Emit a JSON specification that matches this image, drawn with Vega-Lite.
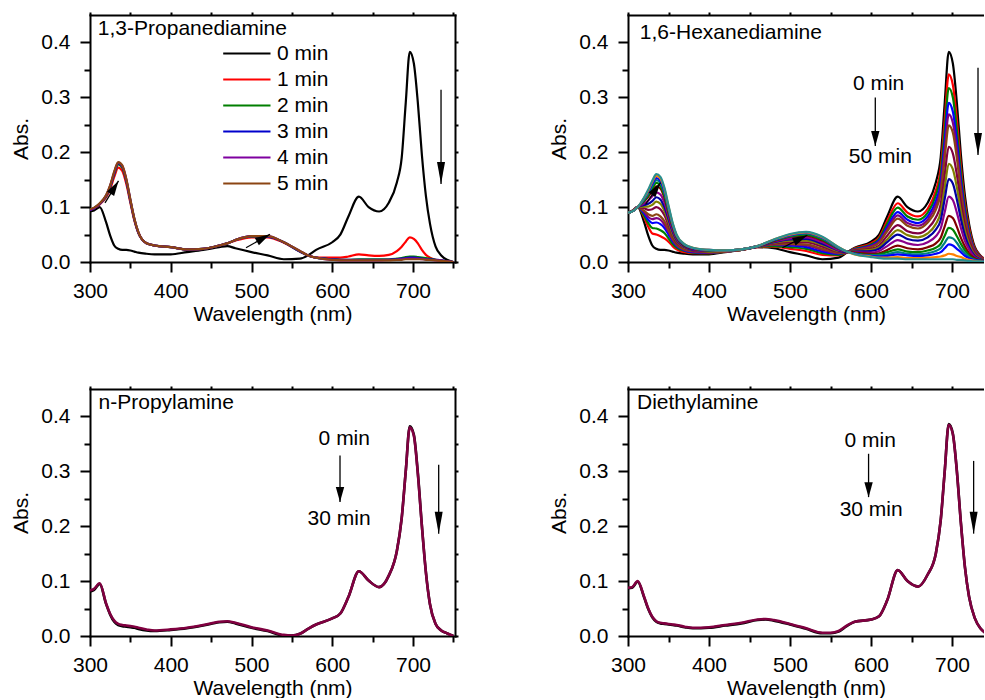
{
"$schema": "https://vega.github.io/schema/vega-lite/v6.json",
"padding": {"left": 10, "top": 11, "right": 0, "bottom": 0},
"bounds": "flush",
"columns": 2,
"spacing": {"row": 127, "column": 173},
"config": {
  "view": {"stroke": null},
  "font": "Liberation Sans",
  "axis": {"grid": false, "domainColor": "black", "domainWidth": 2, "domainCap": "square", "tickColor": "black", "tickWidth": 2, "labelColor": "black", "titleColor": "black", "labelFontSize": 21, "titleFontSize": 21, "titleFontWeight": "normal", "labelFont": "Liberation Sans", "titleFont": "Liberation Sans", "labelFlush": false, "labelOverlap": false, "zindex": 1},
  "text": {"font": "Liberation Sans", "fontSize": 21, "color": "black"}
},
"resolve": {"scale": {"x": "independent", "y": "independent", "color": "independent", "shape": "independent", "angle": "independent"}, "legend": {"color": "independent"}},
"datasets": {
  "s1": [
    {"w":300,"0 min":0.092,"1 min":0.095,"2 min":0.095,"3 min":0.095,"4 min":0.095,"5 min":0.096},
    {"w":305,"0 min":0.094,"1 min":0.098,"2 min":0.098,"3 min":0.098,"4 min":0.098,"5 min":0.099},
    {"w":312,"0 min":0.100,"1 min":0.105,"2 min":0.106,"3 min":0.106,"4 min":0.106,"5 min":0.107},
    {"w":320,"0 min":0.072,"1 min":0.118,"2 min":0.120,"3 min":0.121,"4 min":0.121,"5 min":0.122},
    {"w":325,"0 min":0.048,"1 min":0.133,"2 min":0.137,"3 min":0.138,"4 min":0.139,"5 min":0.140},
    {"w":330,"0 min":0.030,"1 min":0.155,"2 min":0.160,"3 min":0.162,"4 min":0.163,"5 min":0.165},
    {"w":335,"0 min":0.024,"1 min":0.172,"2 min":0.178,"3 min":0.180,"4 min":0.181,"5 min":0.182},
    {"w":340,"0 min":0.022,"1 min":0.166,"2 min":0.172,"3 min":0.174,"4 min":0.175,"5 min":0.176},
    {"w":345,"0 min":0.022,"1 min":0.142,"2 min":0.147,"3 min":0.149,"4 min":0.150,"5 min":0.151},
    {"w":350,"0 min":0.021,"1 min":0.108,"2 min":0.111,"3 min":0.112,"4 min":0.113,"5 min":0.114},
    {"w":355,"0 min":0.019,"1 min":0.075,"2 min":0.077,"3 min":0.078,"4 min":0.078,"5 min":0.079},
    {"w":360,"0 min":0.017,"1 min":0.052,"2 min":0.053,"3 min":0.053,"4 min":0.054,"5 min":0.054},
    {"w":370,"0 min":0.015,"1 min":0.034,"2 min":0.034,"3 min":0.034,"4 min":0.034,"5 min":0.034},
    {"w":380,"0 min":0.014,"1 min":0.030,"2 min":0.030,"3 min":0.030,"4 min":0.030,"5 min":0.030},
    {"w":400,"0 min":0.014,"1 min":0.027,"2 min":0.027,"3 min":0.027,"4 min":0.027,"5 min":0.027},
    {"w":420,"0 min":0.018,"1 min":0.023,"2 min":0.023,"3 min":0.023,"4 min":0.023,"5 min":0.023},
    {"w":440,"0 min":0.022,"1 min":0.024,"2 min":0.024,"3 min":0.024,"4 min":0.024,"5 min":0.024},
    {"w":460,"0 min":0.027,"1 min":0.030,"2 min":0.030,"3 min":0.030,"4 min":0.030,"5 min":0.030},
    {"w":470,"0 min":0.029,"1 min":0.034,"2 min":0.034,"3 min":0.034,"4 min":0.034,"5 min":0.034},
    {"w":480,"0 min":0.025,"1 min":0.039,"2 min":0.040,"3 min":0.040,"4 min":0.040,"5 min":0.040},
    {"w":500,"0 min":0.018,"1 min":0.045,"2 min":0.046,"3 min":0.047,"4 min":0.047,"5 min":0.047},
    {"w":520,"0 min":0.012,"1 min":0.045,"2 min":0.046,"3 min":0.046,"4 min":0.047,"5 min":0.047},
    {"w":540,"0 min":0.005,"1 min":0.035,"2 min":0.036,"3 min":0.036,"4 min":0.036,"5 min":0.036},
    {"w":560,"0 min":0.006,"1 min":0.019,"2 min":0.019,"3 min":0.019,"4 min":0.020,"5 min":0.020},
    {"w":570,"0 min":0.012,"1 min":0.012,"2 min":0.012,"3 min":0.012,"4 min":0.012,"5 min":0.012},
    {"w":580,"0 min":0.022,"1 min":0.008,"2 min":0.008,"3 min":0.008,"4 min":0.008,"5 min":0.008},
    {"w":600,"0 min":0.036,"1 min":0.008,"2 min":0.005,"3 min":0.005,"4 min":0.004,"5 min":0.004},
    {"w":610,"0 min":0.050,"1 min":0.008,"2 min":0.004,"3 min":0.004,"4 min":0.003,"5 min":0.003},
    {"w":620,"0 min":0.083,"1 min":0.010,"2 min":0.004,"3 min":0.004,"4 min":0.003,"5 min":0.003},
    {"w":633,"0 min":0.119,"1 min":0.014,"2 min":0.005,"3 min":0.004,"4 min":0.003,"5 min":0.003},
    {"w":645,"0 min":0.100,"1 min":0.012,"2 min":0.005,"3 min":0.004,"4 min":0.003,"5 min":0.003},
    {"w":658,"0 min":0.092,"1 min":0.011,"2 min":0.005,"3 min":0.004,"4 min":0.003,"5 min":0.003},
    {"w":670,"0 min":0.108,"1 min":0.013,"2 min":0.005,"3 min":0.004,"4 min":0.004,"5 min":0.003},
    {"w":680,"0 min":0.145,"1 min":0.020,"2 min":0.006,"3 min":0.005,"4 min":0.004,"5 min":0.004},
    {"w":686,"0 min":0.190,"1 min":0.028,"2 min":0.007,"3 min":0.006,"4 min":0.005,"5 min":0.004},
    {"w":691,"0 min":0.290,"1 min":0.037,"2 min":0.009,"3 min":0.007,"4 min":0.006,"5 min":0.005},
    {"w":696,"0 min":0.383,"1 min":0.045,"2 min":0.010,"3 min":0.008,"4 min":0.006,"5 min":0.005},
    {"w":701,"0 min":0.362,"1 min":0.042,"2 min":0.010,"3 min":0.008,"4 min":0.006,"5 min":0.005},
    {"w":706,"0 min":0.290,"1 min":0.034,"2 min":0.009,"3 min":0.007,"4 min":0.006,"5 min":0.005},
    {"w":711,"0 min":0.195,"1 min":0.022,"2 min":0.008,"3 min":0.006,"4 min":0.005,"5 min":0.005},
    {"w":716,"0 min":0.120,"1 min":0.013,"2 min":0.007,"3 min":0.005,"4 min":0.005,"5 min":0.004},
    {"w":721,"0 min":0.070,"1 min":0.008,"2 min":0.006,"3 min":0.005,"4 min":0.004,"5 min":0.004},
    {"w":728,"0 min":0.028,"1 min":0.004,"2 min":0.004,"3 min":0.004,"4 min":0.003,"5 min":0.003},
    {"w":735,"0 min":0.012,"1 min":0.002,"2 min":0.003,"3 min":0.003,"4 min":0.003,"5 min":0.002},
    {"w":742,"0 min":0.004,"1 min":0.001,"2 min":0.001,"3 min":0.001,"4 min":0.001,"5 min":0.001},
    {"w":750,"0 min":0.000,"1 min":0.000,"2 min":0.000,"3 min":0.000,"4 min":0.000,"5 min":0.000}
  ],
  "s2": [
    {"w":300,"a":0.090,"b":0.090,"c":0.090,"d":0.090,"e":0.090,"f":0.090,"g":0.090,"h":0.090,"i":0.090,"j":0.090,"k":0.090,"l":0.090,"m":0.090,"n":0.090,"o":0.090,"p":0.090},
    {"w":305,"a":0.093,"b":0.093,"c":0.093,"d":0.093,"e":0.093,"f":0.093,"g":0.092,"h":0.092,"i":0.092,"j":0.092,"k":0.092,"l":0.092,"m":0.092,"n":0.092,"o":0.092,"p":0.092},
    {"w":312,"a":0.100,"b":0.100,"c":0.100,"d":0.100,"e":0.100,"f":0.100,"g":0.100,"h":0.100,"i":0.100,"j":0.100,"k":0.100,"l":0.100,"m":0.100,"n":0.100,"o":0.100,"p":0.100},
    {"w":320,"a":0.072,"b":0.081,"c":0.084,"d":0.088,"e":0.091,"f":0.093,"g":0.098,"h":0.101,"i":0.104,"j":0.107,"k":0.111,"l":0.112,"m":0.114,"n":0.116,"o":0.117,"p":0.118},
    {"w":325,"a":0.048,"b":0.064,"c":0.071,"d":0.077,"e":0.082,"f":0.087,"g":0.095,"h":0.101,"i":0.106,"j":0.112,"k":0.119,"l":0.122,"m":0.125,"n":0.128,"o":0.130,"p":0.132},
    {"w":330,"a":0.030,"b":0.052,"c":0.062,"d":0.071,"e":0.078,"f":0.084,"g":0.096,"h":0.104,"i":0.111,"j":0.120,"k":0.129,"l":0.134,"m":0.139,"n":0.142,"o":0.146,"p":0.148},
    {"w":335,"a":0.024,"b":0.050,"c":0.061,"d":0.072,"e":0.080,"f":0.087,"g":0.100,"h":0.110,"i":0.118,"j":0.127,"k":0.138,"l":0.144,"m":0.149,"n":0.153,"o":0.157,"p":0.160},
    {"w":340,"a":0.022,"b":0.047,"c":0.058,"d":0.069,"e":0.077,"f":0.083,"g":0.096,"h":0.106,"i":0.114,"j":0.123,"k":0.134,"l":0.139,"m":0.144,"n":0.148,"o":0.152,"p":0.155},
    {"w":345,"a":0.022,"b":0.043,"c":0.053,"d":0.062,"e":0.068,"f":0.074,"g":0.085,"h":0.093,"i":0.100,"j":0.108,"k":0.117,"l":0.121,"m":0.126,"n":0.129,"o":0.133,"p":0.135},
    {"w":350,"a":0.021,"b":0.037,"c":0.043,"d":0.050,"e":0.055,"f":0.059,"g":0.067,"h":0.073,"i":0.078,"j":0.083,"k":0.090,"l":0.093,"m":0.096,"n":0.099,"o":0.101,"p":0.103},
    {"w":355,"a":0.019,"b":0.029,"c":0.033,"d":0.038,"e":0.041,"f":0.043,"g":0.049,"h":0.052,"i":0.056,"j":0.059,"k":0.064,"l":0.066,"m":0.068,"n":0.069,"o":0.071,"p":0.072},
    {"w":360,"a":0.017,"b":0.023,"c":0.026,"d":0.029,"e":0.031,"f":0.032,"g":0.035,"h":0.038,"i":0.040,"j":0.042,"k":0.045,"l":0.046,"m":0.047,"n":0.048,"o":0.049,"p":0.050},
    {"w":370,"a":0.015,"b":0.018,"c":0.020,"d":0.021,"e":0.022,"f":0.023,"g":0.025,"h":0.026,"i":0.027,"j":0.028,"k":0.029,"l":0.030,"m":0.031,"n":0.031,"o":0.032,"p":0.032},
    {"w":380,"a":0.014,"b":0.016,"c":0.017,"d":0.018,"e":0.019,"f":0.020,"g":0.021,"h":0.022,"i":0.022,"j":0.023,"k":0.024,"l":0.025,"m":0.025,"n":0.025,"o":0.026,"p":0.026},
    {"w":400,"a":0.014,"b":0.016,"c":0.016,"d":0.017,"e":0.017,"f":0.018,"g":0.018,"h":0.019,"i":0.020,"j":0.020,"k":0.021,"l":0.021,"m":0.021,"n":0.022,"o":0.022,"p":0.022},
    {"w":420,"a":0.018,"b":0.019,"c":0.019,"d":0.019,"e":0.019,"f":0.019,"g":0.020,"h":0.020,"i":0.020,"j":0.020,"k":0.021,"l":0.021,"m":0.021,"n":0.021,"o":0.021,"p":0.021},
    {"w":440,"a":0.022,"b":0.022,"c":0.022,"d":0.022,"e":0.022,"f":0.022,"g":0.022,"h":0.022,"i":0.023,"j":0.023,"k":0.023,"l":0.023,"m":0.023,"n":0.023,"o":0.023,"p":0.023},
    {"w":460,"a":0.027,"b":0.027,"c":0.028,"d":0.028,"e":0.028,"f":0.028,"g":0.028,"h":0.028,"i":0.028,"j":0.029,"k":0.029,"l":0.029,"m":0.029,"n":0.029,"o":0.029,"p":0.029},
    {"w":480,"a":0.025,"b":0.028,"c":0.029,"d":0.031,"e":0.032,"f":0.032,"g":0.034,"h":0.035,"i":0.036,"j":0.037,"k":0.038,"l":0.039,"m":0.040,"n":0.040,"o":0.041,"p":0.041},
    {"w":500,"a":0.018,"b":0.024,"c":0.027,"d":0.030,"e":0.032,"f":0.033,"g":0.036,"h":0.039,"i":0.041,"j":0.043,"k":0.046,"l":0.047,"m":0.048,"n":0.049,"o":0.050,"p":0.051},
    {"w":520,"a":0.012,"b":0.020,"c":0.024,"d":0.027,"e":0.030,"f":0.032,"g":0.036,"h":0.039,"i":0.042,"j":0.045,"k":0.048,"l":0.050,"m":0.052,"n":0.053,"o":0.054,"p":0.055},
    {"w":540,"a":0.005,"b":0.013,"c":0.016,"d":0.019,"e":0.022,"f":0.024,"g":0.028,"h":0.031,"i":0.033,"j":0.036,"k":0.039,"l":0.041,"m":0.043,"n":0.044,"o":0.045,"p":0.046},
    {"w":560,"a":0.008,"b":0.012,"c":0.013,"d":0.015,"e":0.016,"f":0.017,"g":0.019,"h":0.020,"i":0.021,"j":0.022,"k":0.024,"l":0.025,"m":0.025,"n":0.026,"o":0.027,"p":0.027},
    {"w":570,"a":0.017,"b":0.017,"c":0.018,"d":0.018,"e":0.018,"f":0.018,"g":0.018,"h":0.018,"i":0.018,"j":0.019,"k":0.019,"l":0.019,"m":0.019,"n":0.019,"o":0.019,"p":0.019},
    {"w":580,"a":0.026,"b":0.025,"c":0.024,"d":0.023,"e":0.022,"f":0.022,"g":0.021,"h":0.020,"i":0.019,"j":0.018,"k":0.017,"l":0.016,"m":0.015,"n":0.015,"o":0.014,"p":0.014},
    {"w":600,"a":0.037,"b":0.034,"c":0.032,"d":0.030,"e":0.029,"f":0.027,"g":0.024,"h":0.022,"i":0.020,"j":0.017,"k":0.015,"l":0.013,"m":0.012,"n":0.011,"o":0.010,"p":0.009},
    {"w":610,"a":0.050,"b":0.045,"c":0.042,"d":0.039,"e":0.037,"f":0.035,"g":0.030,"h":0.027,"i":0.024,"j":0.020,"k":0.016,"l":0.014,"m":0.012,"n":0.010,"o":0.008,"p":0.007},
    {"w":620,"a":0.083,"b":0.075,"c":0.070,"d":0.064,"e":0.060,"f":0.056,"g":0.048,"h":0.041,"i":0.036,"j":0.029,"k":0.022,"l":0.018,"m":0.014,"n":0.011,"o":0.008,"p":0.006},
    {"w":633,"a":0.119,"b":0.107,"c":0.099,"d":0.091,"e":0.085,"f":0.079,"g":0.067,"h":0.058,"i":0.050,"j":0.040,"k":0.030,"l":0.023,"m":0.018,"n":0.014,"o":0.009,"p":0.006},
    {"w":645,"a":0.100,"b":0.090,"c":0.083,"d":0.077,"e":0.071,"f":0.066,"g":0.056,"h":0.049,"i":0.042,"j":0.034,"k":0.025,"l":0.019,"m":0.015,"n":0.012,"o":0.007,"p":0.005},
    {"w":658,"a":0.092,"b":0.083,"c":0.077,"d":0.071,"e":0.066,"f":0.061,"g":0.052,"h":0.045,"i":0.039,"j":0.031,"k":0.023,"l":0.018,"m":0.014,"n":0.011,"o":0.007,"p":0.005},
    {"w":670,"a":0.108,"b":0.097,"c":0.090,"d":0.083,"e":0.077,"f":0.072,"g":0.061,"h":0.052,"i":0.045,"j":0.036,"k":0.027,"l":0.021,"m":0.016,"n":0.012,"o":0.008,"p":0.005},
    {"w":680,"a":0.145,"b":0.130,"c":0.121,"d":0.111,"e":0.103,"f":0.095,"g":0.081,"h":0.069,"i":0.059,"j":0.047,"k":0.034,"l":0.026,"m":0.020,"n":0.015,"o":0.009,"p":0.005},
    {"w":686,"a":0.190,"b":0.170,"c":0.158,"d":0.144,"e":0.134,"f":0.125,"g":0.105,"h":0.090,"i":0.076,"j":0.061,"k":0.044,"l":0.033,"m":0.025,"n":0.018,"o":0.010,"p":0.005},
    {"w":691,"a":0.290,"b":0.259,"c":0.240,"d":0.220,"e":0.204,"f":0.189,"g":0.159,"h":0.136,"i":0.115,"j":0.091,"k":0.065,"l":0.048,"m":0.035,"n":0.025,"o":0.012,"p":0.005},
    {"w":696,"a":0.383,"b":0.342,"c":0.317,"d":0.290,"e":0.269,"f":0.249,"g":0.210,"h":0.179,"i":0.151,"j":0.119,"k":0.084,"l":0.062,"m":0.045,"n":0.032,"o":0.015,"p":0.005},
    {"w":701,"a":0.362,"b":0.323,"c":0.300,"d":0.274,"e":0.254,"f":0.236,"g":0.198,"h":0.169,"i":0.143,"j":0.113,"k":0.080,"l":0.059,"m":0.043,"n":0.030,"o":0.014,"p":0.005},
    {"w":706,"a":0.290,"b":0.259,"c":0.240,"d":0.220,"e":0.204,"f":0.189,"g":0.159,"h":0.136,"i":0.114,"j":0.090,"k":0.064,"l":0.047,"m":0.035,"n":0.024,"o":0.011,"p":0.004},
    {"w":711,"a":0.195,"b":0.174,"c":0.162,"d":0.148,"e":0.137,"f":0.127,"g":0.108,"h":0.092,"i":0.078,"j":0.062,"k":0.044,"l":0.033,"m":0.024,"n":0.018,"o":0.009,"p":0.004},
    {"w":716,"a":0.120,"b":0.107,"c":0.100,"d":0.091,"e":0.085,"f":0.079,"g":0.066,"h":0.057,"i":0.048,"j":0.038,"k":0.028,"l":0.021,"m":0.016,"n":0.011,"o":0.006,"p":0.003},
    {"w":721,"a":0.070,"b":0.063,"c":0.058,"d":0.053,"e":0.049,"f":0.046,"g":0.039,"h":0.033,"i":0.028,"j":0.023,"k":0.016,"l":0.012,"m":0.009,"n":0.007,"o":0.004,"p":0.002},
    {"w":728,"a":0.028,"b":0.025,"c":0.023,"d":0.021,"e":0.020,"f":0.018,"g":0.016,"h":0.013,"i":0.011,"j":0.009,"k":0.007,"l":0.005,"m":0.004,"n":0.003,"o":0.002,"p":0.001},
    {"w":735,"a":0.012,"b":0.011,"c":0.010,"d":0.009,"e":0.009,"f":0.008,"g":0.007,"h":0.006,"i":0.005,"j":0.004,"k":0.003,"l":0.003,"m":0.002,"n":0.002,"o":0.001,"p":0.001},
    {"w":742,"a":0.004,"b":0.004,"c":0.003,"d":0.003,"e":0.003,"f":0.003,"g":0.002,"h":0.002,"i":0.002,"j":0.001,"k":0.001,"l":0.001,"m":0.000,"n":0.000,"o":0.000,"p":0.000},
    {"w":750,"a":0.000,"b":0.000,"c":0.000,"d":0.000,"e":0.000,"f":0.000,"g":0.000,"h":0.000,"i":0.000,"j":0.000,"k":0.000,"l":0.000,"m":0.000,"n":0.000,"o":0.000,"p":0.000}
  ],
  "s3": [
    {"w":300,"a":0.081,"c":0.083},{"w":305,"a":0.084,"c":0.086},{"w":312,"a":0.095,"c":0.096},{"w":320,"a":0.058,"c":0.059},
    {"w":325,"a":0.039,"c":0.040},{"w":330,"a":0.026,"c":0.028},{"w":335,"a":0.020,"c":0.022},{"w":340,"a":0.018,"c":0.020},
    {"w":345,"a":0.017,"c":0.019},{"w":350,"a":0.016,"c":0.018},{"w":355,"a":0.015,"c":0.017},{"w":360,"a":0.013,"c":0.015},
    {"w":370,"a":0.010,"c":0.012},{"w":380,"a":0.009,"c":0.010},{"w":400,"a":0.011,"c":0.012},{"w":420,"a":0.014,"c":0.015},
    {"w":440,"a":0.019,"c":0.020},{"w":460,"a":0.025,"c":0.026},{"w":470,"a":0.026,"c":0.027},{"w":480,"a":0.023,"c":0.024},
    {"w":500,"a":0.015,"c":0.016},{"w":520,"a":0.009,"c":0.010},{"w":540,"a":0.001,"c":0.002},{"w":550,"a":0.001,"c":0.001},
    {"w":560,"a":0.004,"c":0.004},{"w":570,"a":0.013,"c":0.013},{"w":580,"a":0.021,"c":0.021},{"w":600,"a":0.032,"c":0.032},
    {"w":610,"a":0.041,"c":0.041},{"w":620,"a":0.071,"c":0.071},{"w":633,"a":0.118,"c":0.118},{"w":645,"a":0.101,"c":0.101},
    {"w":658,"a":0.089,"c":0.089},{"w":670,"a":0.110,"c":0.110},{"w":680,"a":0.155,"c":0.155},{"w":686,"a":0.215,"c":0.215},
    {"w":691,"a":0.300,"c":0.300},{"w":696,"a":0.382,"c":0.380},{"w":701,"a":0.367,"c":0.365},{"w":706,"a":0.297,"c":0.295},
    {"w":711,"a":0.201,"c":0.200},{"w":716,"a":0.116,"c":0.115},{"w":721,"a":0.058,"c":0.058},{"w":728,"a":0.022,"c":0.022},
    {"w":735,"a":0.010,"c":0.010},{"w":742,"a":0.005,"c":0.005},{"w":750,"a":0.000,"c":0.000}
  ],
  "s4": [
    {"w":300,"a":0.087,"c":0.088},{"w":305,"a":0.088,"c":0.089},{"w":312,"a":0.099,"c":0.100},{"w":320,"a":0.070,"c":0.071},
    {"w":325,"a":0.049,"c":0.050},{"w":330,"a":0.034,"c":0.035},{"w":335,"a":0.026,"c":0.027},{"w":340,"a":0.023,"c":0.024},
    {"w":345,"a":0.022,"c":0.023},{"w":350,"a":0.021,"c":0.022},{"w":355,"a":0.020,"c":0.021},{"w":360,"a":0.019,"c":0.020},
    {"w":370,"a":0.016,"c":0.017},{"w":380,"a":0.014,"c":0.015},{"w":400,"a":0.015,"c":0.016},{"w":420,"a":0.019,"c":0.020},
    {"w":440,"a":0.023,"c":0.024},{"w":460,"a":0.029,"c":0.030},{"w":470,"a":0.030,"c":0.031},{"w":480,"a":0.028,"c":0.029},
    {"w":500,"a":0.021,"c":0.022},{"w":520,"a":0.013,"c":0.014},{"w":540,"a":0.005,"c":0.006},{"w":550,"a":0.005,"c":0.006},
    {"w":560,"a":0.008,"c":0.009},{"w":570,"a":0.018,"c":0.019},{"w":580,"a":0.026,"c":0.026},{"w":600,"a":0.030,"c":0.030},
    {"w":610,"a":0.036,"c":0.036},{"w":620,"a":0.065,"c":0.065},{"w":633,"a":0.120,"c":0.120},{"w":645,"a":0.100,"c":0.100},
    {"w":658,"a":0.090,"c":0.090},{"w":670,"a":0.112,"c":0.112},{"w":680,"a":0.150,"c":0.150},{"w":686,"a":0.210,"c":0.210},
    {"w":691,"a":0.300,"c":0.300},{"w":696,"a":0.386,"c":0.385},{"w":701,"a":0.369,"c":0.368},{"w":706,"a":0.301,"c":0.300},
    {"w":711,"a":0.206,"c":0.205},{"w":716,"a":0.125,"c":0.125},{"w":721,"a":0.072,"c":0.072},{"w":728,"a":0.033,"c":0.033},
    {"w":735,"a":0.014,"c":0.014},{"w":742,"a":0.005,"c":0.005},{"w":750,"a":0.000,"c":0.000}
  ],
  "arrows": [
    {"p":"p1","x":734.7,"y":0.314,"x2":734.7,"y2":0.142,"kind":"long","angle":0},
    {"p":"p1","x":318.6,"y":0.1076,"x2":335.3,"y2":0.1477,"kind":"short","angle":212},
    {"p":"p1","x":493.2,"y":0.026,"x2":522.9,"y2":0.0505,"kind":"short","angle":241},
    {"p":"p2","x":732.1,"y":0.354,"x2":732.1,"y2":0.195,"kind":"long","angle":0},
    {"p":"p2","x":605.3,"y":0.2996,"x2":605.3,"y2":0.2115,"kind":"short","angle":0},
    {"p":"p2","x":321.7,"y":0.105,"x2":340.2,"y2":0.1446,"kind":"short","angle":215},
    {"p":"p2","x":490.5,"y":0.026,"x2":521.4,"y2":0.0487,"kind":"short","angle":244},
    {"p":"p3","x":731.8,"y":0.312,"x2":731.8,"y2":0.1865,"kind":"long","angle":0},
    {"p":"p3","x":609.6,"y":0.329,"x2":609.6,"y2":0.244,"kind":"short","angle":0},
    {"p":"p4","x":726.7,"y":0.319,"x2":726.7,"y2":0.1865,"kind":"long","angle":0},
    {"p":"p4","x":597,"y":0.332,"x2":597,"y2":0.253,"kind":"short","angle":0}
  ],
  "titles": [
    {"p":"p1","x":309.7,"y":0.424,"label":"1,3-Propanediamine"},
    {"p":"p2","x":314.6,"y":0.417,"label":"1,6-Hexanediamine"},
    {"p":"p3","x":310.6,"y":0.424,"label":"n-Propylamine"},
    {"p":"p4","x":311.1,"y":0.424,"label":"Diethylamine"}
  ],
  "notes": [
    {"p":"p2","x":609.4,"y":0.324,"label":"0 min"},
    {"p":"p2","x":611.5,"y":0.191,"label":"50 min"},
    {"p":"p3","x":614.9,"y":0.358,"label":"0 min"},
    {"p":"p3","x":608.5,"y":0.214,"label":"30 min"},
    {"p":"p4","x":599.1,"y":0.355,"label":"0 min"},
    {"p":"p4","x":600.2,"y":0.230,"label":"30 min"}
  ]
},
"concat": [
  {
    "width": 365, "height": 247,
    "resolve": {"axis": {"x": "independent", "y": "independent"}},
    "layer": [
      {
        "data": {"name": "s1"},
        "transform": [{"fold": ["0 min","1 min","2 min","3 min","4 min","5 min"], "as": ["series","abs"]}],
        "mark": {"type": "line", "strokeWidth": 2.2, "interpolate": "monotone", "clip": true},
        "encoding": {
          "x": {"field": "w", "type": "quantitative", "scale": {"domain": [300, 752], "nice": false, "zero": false},
                "axis": {"orient": "bottom", "values": [300,350,400,450,500,550,600,650,700,750], "labelExpr": "datum.value % 100 === 0 ? datum.label : ''", "tickSize": {"condition": {"test": "datum.value % 100 === 0", "value": 10}, "value": 6}, "title": "Wavelength (nm)", "titlePadding": 2, "labelPadding": 8}},
          "y": {"field": "abs", "type": "quantitative", "scale": {"domain": [0, 0.45], "nice": false, "zero": false},
                "axis": {"orient": "left", "values": [0,0.05,0.1,0.15,0.2,0.25,0.3,0.35,0.4], "labelExpr": "round(datum.value*100) % 10 === 0 ? format(datum.value, '.1f') : ''", "tickSize": {"condition": {"test": "round(datum.value*100) % 10 === 0", "value": 10}, "value": 6}, "title": "Abs.", "titlePadding": 9, "labelPadding": 10}},
          "color": {"field": "series", "type": "nominal",
                    "scale": {"domain": ["0 min","1 min","2 min","3 min","4 min","5 min"], "range": ["#000000","#FF0000","#007F00","#0000CC","#7F00A0","#8B4513"]},
                    "legend": {"orient": "none", "legendX": 157, "legendY": 26, "title": null, "symbolType": "M-3.3,0H1", "symbolSize": 484, "symbolStrokeWidth": 2.2, "labelFontSize": 21, "labelFont": "Liberation Sans", "labelColor": "black", "labelOffset": 5, "rowPadding": 3, "padding": 0, "labelLimit": 0}}
        }
      },
      {
        "data": {"name": "arrows"},
        "transform": [{"filter": "datum.p === 'p1'"}],
        "mark": {"type": "rule", "color": "black", "strokeWidth": 1.3},
        "encoding": {
          "x": {"field": "x", "type": "quantitative", "scale": {"domain": [300, 752], "nice": false, "zero": false},
                "axis": {"orient": "top", "values": [300,350,400,450,500,550,600,650,700,750], "labels": false, "tickSize": 3, "title": null}},
          "x2": {"field": "x2"},
          "y": {"field": "y", "type": "quantitative", "scale": {"domain": [0, 0.45], "nice": false, "zero": false},
                "axis": {"orient": "right", "values": [0,0.05,0.1,0.15,0.2,0.25,0.3,0.35,0.4], "labels": false, "tickSize": 3, "title": null}},
          "y2": {"field": "y2"}
        }
      },
      {
        "data": {"name": "arrows"},
        "transform": [{"filter": "datum.p === 'p1'"}],
        "mark": {"type": "point", "filled": true, "color": "black", "size": 400, "strokeWidth": 0, "opacity": 1},
        "encoding": {
          "x": {"field": "x2", "type": "quantitative", "scale": {"domain": [300, 752], "nice": false, "zero": false}, "axis": null},
          "y": {"field": "y2", "type": "quantitative", "scale": {"domain": [0, 0.45], "nice": false, "zero": false}, "axis": null},
          "shape": {"field": "kind", "type": "nominal", "scale": {"domain": ["long","short"], "range": ["M0,0L-0.4,-2.2L0.4,-2.2Z","M0,0L-0.42,-1.5L0.42,-1.5Z"]}, "legend": null},
          "angle": {"field": "angle", "type": "quantitative", "scale": {"domain": [0, 360], "range": [0, 360], "zero": false, "nice": false}, "legend": null}
        }
      },
      {
        "data": {"name": "titles"},
        "transform": [{"filter": "datum.p === 'p1'"}],
        "mark": {"type": "text", "align": "left", "baseline": "middle", "fontSize": 21},
        "encoding": {
          "x": {"field": "x", "type": "quantitative", "scale": {"domain": [300, 752], "nice": false, "zero": false}, "axis": null},
          "y": {"field": "y", "type": "quantitative", "scale": {"domain": [0, 0.45], "nice": false, "zero": false}, "axis": null},
          "text": {"field": "label"}
        }
      }
    ]
  },
  {
    "width": 356, "height": 247,
    "resolve": {"axis": {"x": "independent", "y": "independent"}},
    "layer": [
      {
        "data": {"name": "s2"},
        "transform": [{"fold": ["a","b","c","d","e","f","g","h","i","j","k","l","m","n","o","p"], "as": ["series","abs"]}],
        "mark": {"type": "line", "strokeWidth": 2.2, "interpolate": "monotone", "clip": true},
        "encoding": {
          "x": {"field": "w", "type": "quantitative", "scale": {"domain": [300, 739.5], "nice": false, "zero": false},
                "axis": {"orient": "bottom", "values": [300,350,400,450,500,550,600,650,700], "labelExpr": "datum.value % 100 === 0 ? datum.label : ''", "tickSize": {"condition": {"test": "datum.value % 100 === 0", "value": 10}, "value": 6}, "title": "Wavelength (nm)", "titlePadding": 2, "labelPadding": 8}},
          "y": {"field": "abs", "type": "quantitative", "scale": {"domain": [0, 0.45], "nice": false, "zero": false},
                "axis": {"orient": "left", "values": [0,0.05,0.1,0.15,0.2,0.25,0.3,0.35,0.4], "labelExpr": "round(datum.value*100) % 10 === 0 ? format(datum.value, '.1f') : ''", "tickSize": {"condition": {"test": "round(datum.value*100) % 10 === 0", "value": 10}, "value": 6}, "title": "Abs.", "titlePadding": 9, "labelPadding": 10}},
          "color": {"field": "series", "type": "nominal",
                    "scale": {"domain": ["a","b","c","d","e","f","g","h","i","j","k","l","m","n","o","p"], "range": ["#000000","#FF0000","#008000","#0000FF","#800080","#8B4513","#800040","#808000","#0000A0","#8B008B","#800000","#008000","#008080","#0000FF","#FF8000","#2A8F8F"]},
                    "legend": null}
        }
      },
      {
        "data": {"name": "arrows"},
        "transform": [{"filter": "datum.p === 'p2'"}],
        "mark": {"type": "rule", "color": "black", "strokeWidth": 1.3},
        "encoding": {
          "x": {"field": "x", "type": "quantitative", "scale": {"domain": [300, 739.5], "nice": false, "zero": false},
                "axis": {"orient": "top", "values": [300,350,400,450,500,550,600,650,700], "labels": false, "tickSize": 3, "title": null}},
          "x2": {"field": "x2"},
          "y": {"field": "y", "type": "quantitative", "scale": {"domain": [0, 0.45], "nice": false, "zero": false}, "axis": null},
          "y2": {"field": "y2"}
        }
      },
      {
        "data": {"name": "arrows"},
        "transform": [{"filter": "datum.p === 'p2'"}],
        "mark": {"type": "point", "filled": true, "color": "black", "size": 400, "strokeWidth": 0, "opacity": 1},
        "encoding": {
          "x": {"field": "x2", "type": "quantitative", "scale": {"domain": [300, 739.5], "nice": false, "zero": false}, "axis": null},
          "y": {"field": "y2", "type": "quantitative", "scale": {"domain": [0, 0.45], "nice": false, "zero": false}, "axis": null},
          "shape": {"field": "kind", "type": "nominal", "scale": {"domain": ["long","short"], "range": ["M0,0L-0.4,-2.2L0.4,-2.2Z","M0,0L-0.42,-1.5L0.42,-1.5Z"]}, "legend": null},
          "angle": {"field": "angle", "type": "quantitative", "scale": {"domain": [0, 360], "range": [0, 360], "zero": false, "nice": false}, "legend": null}
        }
      },
      {
        "data": {"name": "titles"},
        "transform": [{"filter": "datum.p === 'p2'"}],
        "mark": {"type": "text", "align": "left", "baseline": "middle", "fontSize": 21},
        "encoding": {
          "x": {"field": "x", "type": "quantitative", "scale": {"domain": [300, 739.5], "nice": false, "zero": false}, "axis": null},
          "y": {"field": "y", "type": "quantitative", "scale": {"domain": [0, 0.45], "nice": false, "zero": false}, "axis": null},
          "text": {"field": "label"}
        }
      },
      {
        "data": {"name": "notes"},
        "transform": [{"filter": "datum.p === 'p2'"}],
        "mark": {"type": "text", "align": "center", "baseline": "middle", "fontSize": 21},
        "encoding": {
          "x": {"field": "x", "type": "quantitative", "scale": {"domain": [300, 739.5], "nice": false, "zero": false}, "axis": null},
          "y": {"field": "y", "type": "quantitative", "scale": {"domain": [0, 0.45], "nice": false, "zero": false}, "axis": null},
          "text": {"field": "label"}
        }
      }
    ]
  },
  {
    "width": 365, "height": 247,
    "resolve": {"axis": {"x": "independent", "y": "independent"}},
    "layer": [
      {
        "data": {"name": "s3"},
        "transform": [{"fold": ["a","c"], "as": ["series","abs"]}],
        "mark": {"type": "line", "strokeWidth": 2.6, "interpolate": "monotone", "clip": true},
        "encoding": {
          "x": {"field": "w", "type": "quantitative", "scale": {"domain": [300, 752], "nice": false, "zero": false},
                "axis": {"orient": "bottom", "values": [300,350,400,450,500,550,600,650,700,750], "labelExpr": "datum.value % 100 === 0 ? datum.label : ''", "tickSize": {"condition": {"test": "datum.value % 100 === 0", "value": 10}, "value": 6}, "title": "Wavelength (nm)", "titlePadding": 2, "labelPadding": 8}},
          "y": {"field": "abs", "type": "quantitative", "scale": {"domain": [0, 0.45], "nice": false, "zero": false},
                "axis": {"orient": "left", "values": [0,0.05,0.1,0.15,0.2,0.25,0.3,0.35,0.4], "labelExpr": "round(datum.value*100) % 10 === 0 ? format(datum.value, '.1f') : ''", "tickSize": {"condition": {"test": "round(datum.value*100) % 10 === 0", "value": 10}, "value": 6}, "title": "Abs.", "titlePadding": 9, "labelPadding": 10}},
          "color": {"field": "series", "type": "nominal", "scale": {"domain": ["a","c"], "range": ["#000000","#800040"]}, "legend": null}
        }
      },
      {
        "data": {"name": "arrows"},
        "transform": [{"filter": "datum.p === 'p3'"}],
        "mark": {"type": "rule", "color": "black", "strokeWidth": 1.3},
        "encoding": {
          "x": {"field": "x", "type": "quantitative", "scale": {"domain": [300, 752], "nice": false, "zero": false},
                "axis": {"orient": "top", "values": [300,350,400,450,500,550,600,650,700,750], "labels": false, "tickSize": 3, "title": null}},
          "x2": {"field": "x2"},
          "y": {"field": "y", "type": "quantitative", "scale": {"domain": [0, 0.45], "nice": false, "zero": false},
                "axis": {"orient": "right", "values": [0,0.05,0.1,0.15,0.2,0.25,0.3,0.35,0.4], "labels": false, "tickSize": 3, "title": null}},
          "y2": {"field": "y2"}
        }
      },
      {
        "data": {"name": "arrows"},
        "transform": [{"filter": "datum.p === 'p3'"}],
        "mark": {"type": "point", "filled": true, "color": "black", "size": 400, "strokeWidth": 0, "opacity": 1},
        "encoding": {
          "x": {"field": "x2", "type": "quantitative", "scale": {"domain": [300, 752], "nice": false, "zero": false}, "axis": null},
          "y": {"field": "y2", "type": "quantitative", "scale": {"domain": [0, 0.45], "nice": false, "zero": false}, "axis": null},
          "shape": {"field": "kind", "type": "nominal", "scale": {"domain": ["long","short"], "range": ["M0,0L-0.4,-2.2L0.4,-2.2Z","M0,0L-0.42,-1.5L0.42,-1.5Z"]}, "legend": null},
          "angle": {"field": "angle", "type": "quantitative", "scale": {"domain": [0, 360], "range": [0, 360], "zero": false, "nice": false}, "legend": null}
        }
      },
      {
        "data": {"name": "titles"},
        "transform": [{"filter": "datum.p === 'p3'"}],
        "mark": {"type": "text", "align": "left", "baseline": "middle", "fontSize": 21},
        "encoding": {
          "x": {"field": "x", "type": "quantitative", "scale": {"domain": [300, 752], "nice": false, "zero": false}, "axis": null},
          "y": {"field": "y", "type": "quantitative", "scale": {"domain": [0, 0.45], "nice": false, "zero": false}, "axis": null},
          "text": {"field": "label"}
        }
      },
      {
        "data": {"name": "notes"},
        "transform": [{"filter": "datum.p === 'p3'"}],
        "mark": {"type": "text", "align": "center", "baseline": "middle", "fontSize": 21},
        "encoding": {
          "x": {"field": "x", "type": "quantitative", "scale": {"domain": [300, 752], "nice": false, "zero": false}, "axis": null},
          "y": {"field": "y", "type": "quantitative", "scale": {"domain": [0, 0.45], "nice": false, "zero": false}, "axis": null},
          "text": {"field": "label"}
        }
      }
    ]
  },
  {
    "width": 356, "height": 247,
    "resolve": {"axis": {"x": "independent", "y": "independent"}},
    "layer": [
      {
        "data": {"name": "s4"},
        "transform": [{"fold": ["a","c"], "as": ["series","abs"]}],
        "mark": {"type": "line", "strokeWidth": 2.6, "interpolate": "monotone", "clip": true},
        "encoding": {
          "x": {"field": "w", "type": "quantitative", "scale": {"domain": [300, 739.5], "nice": false, "zero": false},
                "axis": {"orient": "bottom", "values": [300,350,400,450,500,550,600,650,700], "labelExpr": "datum.value % 100 === 0 ? datum.label : ''", "tickSize": {"condition": {"test": "datum.value % 100 === 0", "value": 10}, "value": 6}, "title": "Wavelength (nm)", "titlePadding": 2, "labelPadding": 8}},
          "y": {"field": "abs", "type": "quantitative", "scale": {"domain": [0, 0.45], "nice": false, "zero": false},
                "axis": {"orient": "left", "values": [0,0.05,0.1,0.15,0.2,0.25,0.3,0.35,0.4], "labelExpr": "round(datum.value*100) % 10 === 0 ? format(datum.value, '.1f') : ''", "tickSize": {"condition": {"test": "round(datum.value*100) % 10 === 0", "value": 10}, "value": 6}, "title": "Abs.", "titlePadding": 9, "labelPadding": 10}},
          "color": {"field": "series", "type": "nominal", "scale": {"domain": ["a","c"], "range": ["#000000","#800040"]}, "legend": null}
        }
      },
      {
        "data": {"name": "arrows"},
        "transform": [{"filter": "datum.p === 'p4'"}],
        "mark": {"type": "rule", "color": "black", "strokeWidth": 1.3},
        "encoding": {
          "x": {"field": "x", "type": "quantitative", "scale": {"domain": [300, 739.5], "nice": false, "zero": false},
                "axis": {"orient": "top", "values": [300,350,400,450,500,550,600,650,700], "labels": false, "tickSize": 3, "title": null}},
          "x2": {"field": "x2"},
          "y": {"field": "y", "type": "quantitative", "scale": {"domain": [0, 0.45], "nice": false, "zero": false}, "axis": null},
          "y2": {"field": "y2"}
        }
      },
      {
        "data": {"name": "arrows"},
        "transform": [{"filter": "datum.p === 'p4'"}],
        "mark": {"type": "point", "filled": true, "color": "black", "size": 400, "strokeWidth": 0, "opacity": 1},
        "encoding": {
          "x": {"field": "x2", "type": "quantitative", "scale": {"domain": [300, 739.5], "nice": false, "zero": false}, "axis": null},
          "y": {"field": "y2", "type": "quantitative", "scale": {"domain": [0, 0.45], "nice": false, "zero": false}, "axis": null},
          "shape": {"field": "kind", "type": "nominal", "scale": {"domain": ["long","short"], "range": ["M0,0L-0.4,-2.2L0.4,-2.2Z","M0,0L-0.42,-1.5L0.42,-1.5Z"]}, "legend": null},
          "angle": {"field": "angle", "type": "quantitative", "scale": {"domain": [0, 360], "range": [0, 360], "zero": false, "nice": false}, "legend": null}
        }
      },
      {
        "data": {"name": "titles"},
        "transform": [{"filter": "datum.p === 'p4'"}],
        "mark": {"type": "text", "align": "left", "baseline": "middle", "fontSize": 21},
        "encoding": {
          "x": {"field": "x", "type": "quantitative", "scale": {"domain": [300, 739.5], "nice": false, "zero": false}, "axis": null},
          "y": {"field": "y", "type": "quantitative", "scale": {"domain": [0, 0.45], "nice": false, "zero": false}, "axis": null},
          "text": {"field": "label"}
        }
      },
      {
        "data": {"name": "notes"},
        "transform": [{"filter": "datum.p === 'p4'"}],
        "mark": {"type": "text", "align": "center", "baseline": "middle", "fontSize": 21},
        "encoding": {
          "x": {"field": "x", "type": "quantitative", "scale": {"domain": [300, 739.5], "nice": false, "zero": false}, "axis": null},
          "y": {"field": "y", "type": "quantitative", "scale": {"domain": [0, 0.45], "nice": false, "zero": false}, "axis": null},
          "text": {"field": "label"}
        }
      }
    ]
  }
]
}
